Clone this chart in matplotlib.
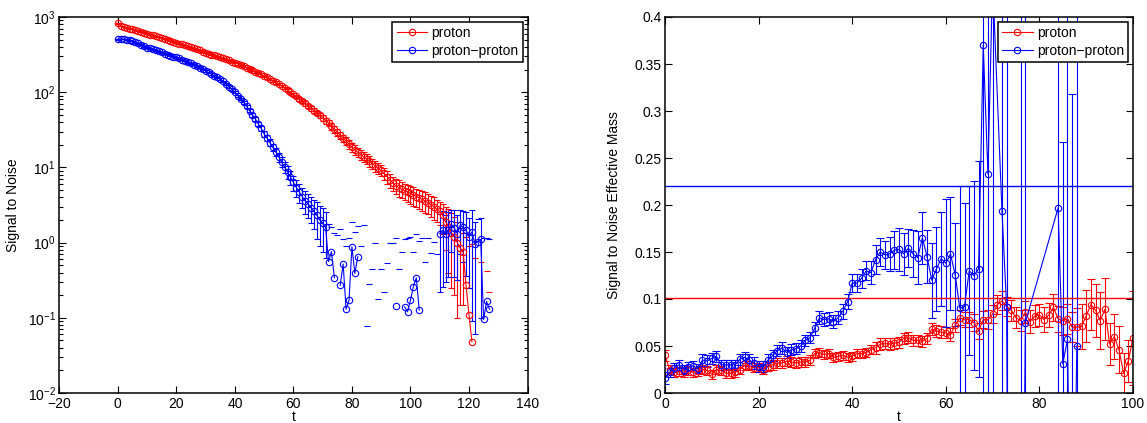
import numpy as np
import matplotlib
matplotlib.use("Agg")
import matplotlib.pyplot as plt

plt.rcParams['font.family'] = ['Liberation Sans', 'DejaVu Sans']
plt.rcParams['font.size'] = 10
plt.rcParams['mathtext.fontset'] = 'custom'
plt.rcParams['mathtext.rm'] = 'Liberation Sans'
plt.rcParams['mathtext.it'] = 'Liberation Sans:italic'

nan = np.nan

# ---- left panel: signal to noise (log scale) ----
t_sn = list(range(128))

proton_sn = [
    824, 760, 735, 715, 700, 690, 672, 655, 638, 620,
    600, 585, 570, 555, 540, 525, 512, 498, 484, 470,
    457, 444, 431, 419, 407, 395, 383, 371, 359, 347,
    336, 326, 317, 308, 299, 290, 281, 273, 264, 256,
    248, 239, 230, 221, 212, 203, 195, 187, 180, 172,
    165, 157, 150, 142, 135, 128, 121, 114, 107, 100,
    94, 88, 82, 76, 71, 66, 61, 57, 53, 49,
    46, 42, 39, 35, 32, 29.4, 27, 24.5, 22.3, 20.4,
    18.6, 17.2, 15.9, 14.8, 13.8, 13.0, 12.1, 11.2, 10.4, 9.7,
    9.1, 8.3, 7.5, 6.8, 6.2, 5.7, 5.4, 5.1, 4.9, 4.7,
    4.5, 4.3, 4.1, 3.9, 3.75, 3.6, 3.4, 3.2, 3.0, 2.8,
    2.6, 2.3, 1.9, 1.6, 1.35, 1.2, 1.0, 0.85, 0.75, 0.27,
    0.11, 0.048, nan, nan, nan, nan, nan, nan]
proton_sn_err = [
    8, 7, 7, 7, 7, 7, 7, 7, 6, 6,
    6, 6, 6, 6, 6, 6, 6, 6, 6, 6,
    6, 6, 6, 6, 6, 6, 6, 6, 6, 6,
    6, 6, 6, 6, 6, 6, 6, 6, 6, 6,
    6, 6, 6, 6, 6, 6, 6, 6, 6, 6,
    5, 5, 5, 5, 5, 5, 5, 5, 5, 5,
    5, 5, 5, 4.5, 4.5, 4.5, 4, 4, 4, 4,
    4, 3.8, 3.6, 3.4, 3.2, 3, 2.9, 2.8, 2.7, 2.6,
    2.5, 2.4, 2.3, 2.2, 2.1, 2, 1.9, 1.8, 1.7, 1.6,
    1.5, 1.5, 1.4, 1.4, 1.3, 1.3, 1.3, 1.2, 1.2, 1.2,
    1.2, 1.2, 1.1, 1.1, 1.1, 1.1, 1.0, 1.0, 1.0, 0.9,
    0.9, 1.0, 1.1, 1.2, 1.1, 1.0, 0.9, 0.7, 0.6, 0.9,
    0.8, 0.9, nan, nan, nan, nan, nan, nan]

pp_sn = [
    506, 512, 508, 500, 490, 478, 462, 445, 428, 410,
    393, 382, 371, 360, 349, 338, 327, 317, 307, 298,
    290, 281, 272, 262, 252, 242, 231, 221, 211, 201,
    192, 183, 174, 166, 157, 149, 139, 129, 119, 109,
    100, 90, 81, 73, 65, 57, 50, 44, 38, 33,
    28, 24.5, 21.3, 18.5, 16, 13.7, 11.8, 10.1, 8.7, 7.4,
    6.3, 5.4, 4.7, 4.1, 3.6, 3.3, 2.9, 2.6, 2.3, 2.0,
    1.8, 1.6, 0.56, 0.76, 0.34, nan, 0.27, 0.52, 0.13, 0.17,
    0.88, 0.39, 0.65, nan, nan, nan, nan, nan, nan, nan,
    nan, nan, nan, nan, nan, 0.145, nan, nan, 0.14, 0.12,
    0.17, 0.26, 0.34, 0.127, nan, nan, nan, nan, nan, nan,
    1.32, 1.46, 1.30, 1.45, 1.75, 1.55, 1.32, 1.7, 1.6, 1.46,
    1.2, 1.39, 0.97, 1.03, 1.1, 0.095, 0.165, 0.13]
pp_sn_err = [
    5, 5, 5, 5, 5, 5, 5, 5, 5, 5,
    4, 4, 4, 4, 4, 4, 4, 4, 4, 4,
    4, 4, 4, 4, 4, 4, 4, 4, 4, 4,
    4, 4, 4, 4, 4, 4, 4, 4, 4, 4,
    3, 3, 3, 3, 3, 2.5, 2.5, 2.5, 2.5, 2.5,
    2.4, 2.3, 2.2, 2.1, 2.0, 1.9, 1.8, 1.7, 1.6, 1.5,
    1.4, 1.35, 1.3, 1.25, 1.2, 1.15, 1.1, 1.1, 1.2, 1.1,
    1.05, 0.97, 1.19, 0.84, 0.99, nan, 1.23, 0.61, 0.77, 0.97,
    0.98, 1.01, 1.01, nan, nan, nan, nan, nan, nan, nan,
    nan, nan, nan, nan, nan, 1.0, nan, nan, 0.99, 1.02,
    1.03, 0.49, 0.98, 0.92, nan, nan, nan, nan, nan, nan,
    1.1, 1.2, 1.0, 1.1, 1.0, 1.2, 1.0, 1.0, 1.05, 1.1,
    0.95, 1.3, 0.91, 1.05, 1.0, 1.04, 0.97, 1.0]

# upper caps left over from points whose value is negative (not drawn on log axis)
proton_cap_t = [122, 124, 126, 127]
proton_cap_hi = [0.62, 0.55, 0.42, 0.22]
pp_cap_t = [75, 83, 84, 85, 86, 87, 88, 89, 90, 91, 92, 93, 94, 96, 97,
            104, 105, 106, 107, 108, 109]
pp_cap_hi = [1.26, 0.9, 1.7, 0.078, 0.28, 0.44, 1.0, 0.18, 0.45, 0.22, 0.54,
             1.0, 0.98, 0.44, 0.75, 1.14, 0.56, 1.14, 0.72, 1.02, 0.7]

# ---- right panel: signal to noise effective mass ----
t_proton_meff = list(range(101))
proton_meff = [
    0.040, 0.025, 0.022, 0.023, 0.022, 0.024, 0.022, 0.023, 0.025, 0.024,
    0.020, 0.025, 0.024, 0.021, 0.021, 0.022, 0.025, 0.029, 0.029, 0.027,
    0.027, 0.025, 0.028, 0.030, 0.032, 0.032, 0.034, 0.033, 0.032, 0.033,
    0.033, 0.035, 0.042, 0.043, 0.041, 0.042, 0.038, 0.039, 0.040, 0.038,
    0.039, 0.042, 0.042, 0.043, 0.046, 0.048, 0.052, 0.053, 0.052, 0.053,
    0.054, 0.058, 0.059, 0.056, 0.056, 0.055, 0.058, 0.068, 0.066, 0.065,
    0.064, 0.062, 0.072, 0.080, 0.078, 0.078, 0.075, 0.066, 0.078, 0.078,
    0.084, 0.094, 0.098, 0.092, 0.088, 0.080, 0.077, 0.086, 0.076, 0.082,
    0.083, 0.078, 0.083, 0.091, 0.079, 0.077, 0.079, 0.070, 0.070, 0.071,
    0.082, 0.094, 0.088, 0.077, 0.089, 0.052, 0.060, 0.046, 0.021, 0.034,
    0.059]
proton_meff_err = [
    0.006, 0.005, 0.005, 0.005, 0.005, 0.005, 0.005, 0.005, 0.005, 0.005,
    0.005, 0.005, 0.005, 0.005, 0.005, 0.005, 0.005, 0.005, 0.005, 0.005,
    0.005, 0.005, 0.005, 0.005, 0.005, 0.005, 0.005, 0.005, 0.005, 0.005,
    0.005, 0.005, 0.005, 0.005, 0.005, 0.005, 0.005, 0.005, 0.005, 0.005,
    0.005, 0.005, 0.005, 0.005, 0.005, 0.006, 0.006, 0.006, 0.006, 0.006,
    0.006, 0.006, 0.006, 0.006, 0.006, 0.006, 0.006, 0.006, 0.006, 0.006,
    0.006, 0.007, 0.007, 0.008, 0.008, 0.008, 0.009, 0.009, 0.009, 0.010,
    0.010, 0.010, 0.010, 0.010, 0.011, 0.011, 0.011, 0.012, 0.012, 0.012,
    0.012, 0.013, 0.013, 0.014, 0.014, 0.015, 0.016, 0.016, 0.020, 0.024,
    0.028, 0.027, 0.028, 0.030, 0.033, 0.022, 0.024, 0.025, 0.022, 0.022,
    0.050]

t_pp_meff = list(range(71)) + [72, 73, 74, 76, 77, 84, 85, 86, 87, 88]
pp_meff = [
    0.016, 0.022, 0.027, 0.030, 0.025, 0.028, 0.029, 0.026, 0.035, 0.034,
    0.037, 0.039, 0.030, 0.030, 0.030, 0.030, 0.036, 0.038, 0.035, 0.032,
    0.028, 0.028, 0.035, 0.040, 0.045, 0.048, 0.043, 0.046, 0.047, 0.050,
    0.056, 0.059, 0.069, 0.080, 0.078, 0.079, 0.076, 0.080, 0.087, 0.097,
    0.117, 0.117, 0.122, 0.130, 0.128, 0.142, 0.150, 0.147, 0.148, 0.152,
    0.153, 0.148, 0.154, 0.148, 0.144, 0.165, 0.145, 0.120, 0.132, 0.143,
    0.138, 0.148, 0.126, 0.090, 0.092, 0.130, 0.125, 0.132, 0.370, 0.233,
    0.44,
    0.194, 0.091, -0.9, -0.5, 0.075, 0.197, 0.031, 0.057, -0.3, 0.050]
pp_meff_err = [
    0.006, 0.005, 0.005, 0.005, 0.005, 0.005, 0.005, 0.005, 0.006, 0.006,
    0.006, 0.006, 0.005, 0.005, 0.005, 0.005, 0.006, 0.006, 0.006, 0.006,
    0.006, 0.006, 0.006, 0.006, 0.006, 0.006, 0.006, 0.006, 0.006, 0.006,
    0.006, 0.006, 0.007, 0.007, 0.007, 0.007, 0.007, 0.007, 0.008, 0.008,
    0.010, 0.010, 0.010, 0.010, 0.012, 0.015, 0.015, 0.015, 0.018, 0.020,
    0.023, 0.022, 0.020, 0.025, 0.028, 0.028, 0.028, 0.040, 0.045, 0.050,
    0.068, 0.060, 0.055, 0.130, 0.110, 0.090, 0.100, 0.115, 0.600, 0.600,
    0.600,
    0.600, 0.600, 0.300, 1.000, 0.600, 0.800, 0.236, 0.600, 0.618, 0.600]

proton_meff_ref = 0.101
pp_meff_ref = 0.22

labels = ['proton', 'proton\u2212proton']

RED = (1, 0, 0)
BLUE = (0, 0, 1)
LW = 0.8
MS = 4.6


def sn_series(ax, t, val, err, cap_t, cap_hi, color, cap):
    # MATLAB-like errorbars on a log axis: bars whose lower end is <= 0 keep only the top cap
    t = np.asarray(t, float)
    val = np.asarray(val, float)
    err = np.asarray(err, float)
    shown = ~np.isnan(val)
    full = shown & (val - err > 0)
    half = shown & ~full
    line, = ax.plot(t, val, '-o', color=color, mfc='none', ms=MS, mew=0.8,
                    lw=LW, zorder=3)
    ax.errorbar(t[full], val[full], yerr=err[full], fmt='none', ecolor=color,
                elinewidth=LW, capsize=cap, capthick=LW, zorder=2)
    ax.plot(t[half], (val + err)[half], '_', color=color, ms=2 * cap, mew=LW,
            zorder=2)
    ax.plot(cap_t, cap_hi, '_', color=color, ms=2 * cap, mew=LW, zorder=2)
    return line


def style_axes(ax):
    for s in ax.spines.values():
        s.set_linewidth(1.1)
    ax.tick_params(which='both', direction='in', top=True, right=True,
                   labelsize=10, width=0.8)
    ax.tick_params(which='major', length=5)
    ax.tick_params(which='minor', length=3)
    ax.tick_params(axis='x', pad=3)
    ax.tick_params(axis='y', pad=2.5)


def add_legend(ax, handles):
    leg = ax.legend(handles, labels, loc='upper right', fancybox=False,
                    framealpha=1, edgecolor='black', borderpad=0.3,
                    handlelength=2.2, handletextpad=0.3, labelspacing=0.25,
                    borderaxespad=0.35, fontsize=10)
    leg.get_frame().set_linewidth(1.1)


fig = plt.figure(figsize=(11.47, 4.23), dpi=100)
ax1 = fig.add_axes([59.3 / 1147, 30 / 423, 468.2 / 1147, 376 / 423])
ax2 = fig.add_axes([665 / 1147, 30 / 423, 468 / 1147, 376 / 423])

# left
ax1.set_yscale('log')
h1 = sn_series(ax1, t_sn, proton_sn, proton_sn_err, proton_cap_t,
               proton_cap_hi, RED, 2.3)
h2 = sn_series(ax1, t_sn, pp_sn, pp_sn_err, pp_cap_t, pp_cap_hi, BLUE, 2.3)
ax1.set_xlim(-20, 140)
ax1.set_ylim(1e-2, 1e3)
ax1.set_xticks(range(-20, 141, 20))
ax1.set_ylabel('Signal to Noise')
ax1.set_xlabel('t', labelpad=-1)
ax1.yaxis.set_label_coords(-0.085, 0.5)
style_axes(ax1)
add_legend(ax1, [h1, h2])

# right
c1 = ax2.errorbar(t_proton_meff, proton_meff, yerr=proton_meff_err, fmt='-o',
                  color=RED, mfc='none', ms=MS, mew=0.8, lw=LW, elinewidth=LW,
                  capsize=2.6, capthick=LW)
c2 = ax2.errorbar(t_pp_meff, pp_meff, yerr=pp_meff_err, fmt='-o',
                  color=BLUE, mfc='none', ms=MS, mew=0.8, lw=LW, elinewidth=LW,
                  capsize=2.6, capthick=LW)
ax2.axhline(proton_meff_ref, color=RED, lw=1.0)
ax2.axhline(pp_meff_ref, color=BLUE, lw=1.0)
ax2.set_xlim(0, 100)
ax2.set_ylim(0, 0.4)
ax2.set_xticks(range(0, 101, 20))
yt = [0, 0.05, 0.1, 0.15, 0.2, 0.25, 0.3, 0.35, 0.4]
ax2.set_yticks(yt, ['%g' % v for v in yt])
ax2.set_ylabel('Signal to Noise Effective Mass')
ax2.set_xlabel('t', labelpad=-1)
ax2.yaxis.set_label_coords(-0.093, 0.5)
style_axes(ax2)
add_legend(ax2, [c1.lines[0], c2.lines[0]])

fig.savefig('out.png', dpi=100)
